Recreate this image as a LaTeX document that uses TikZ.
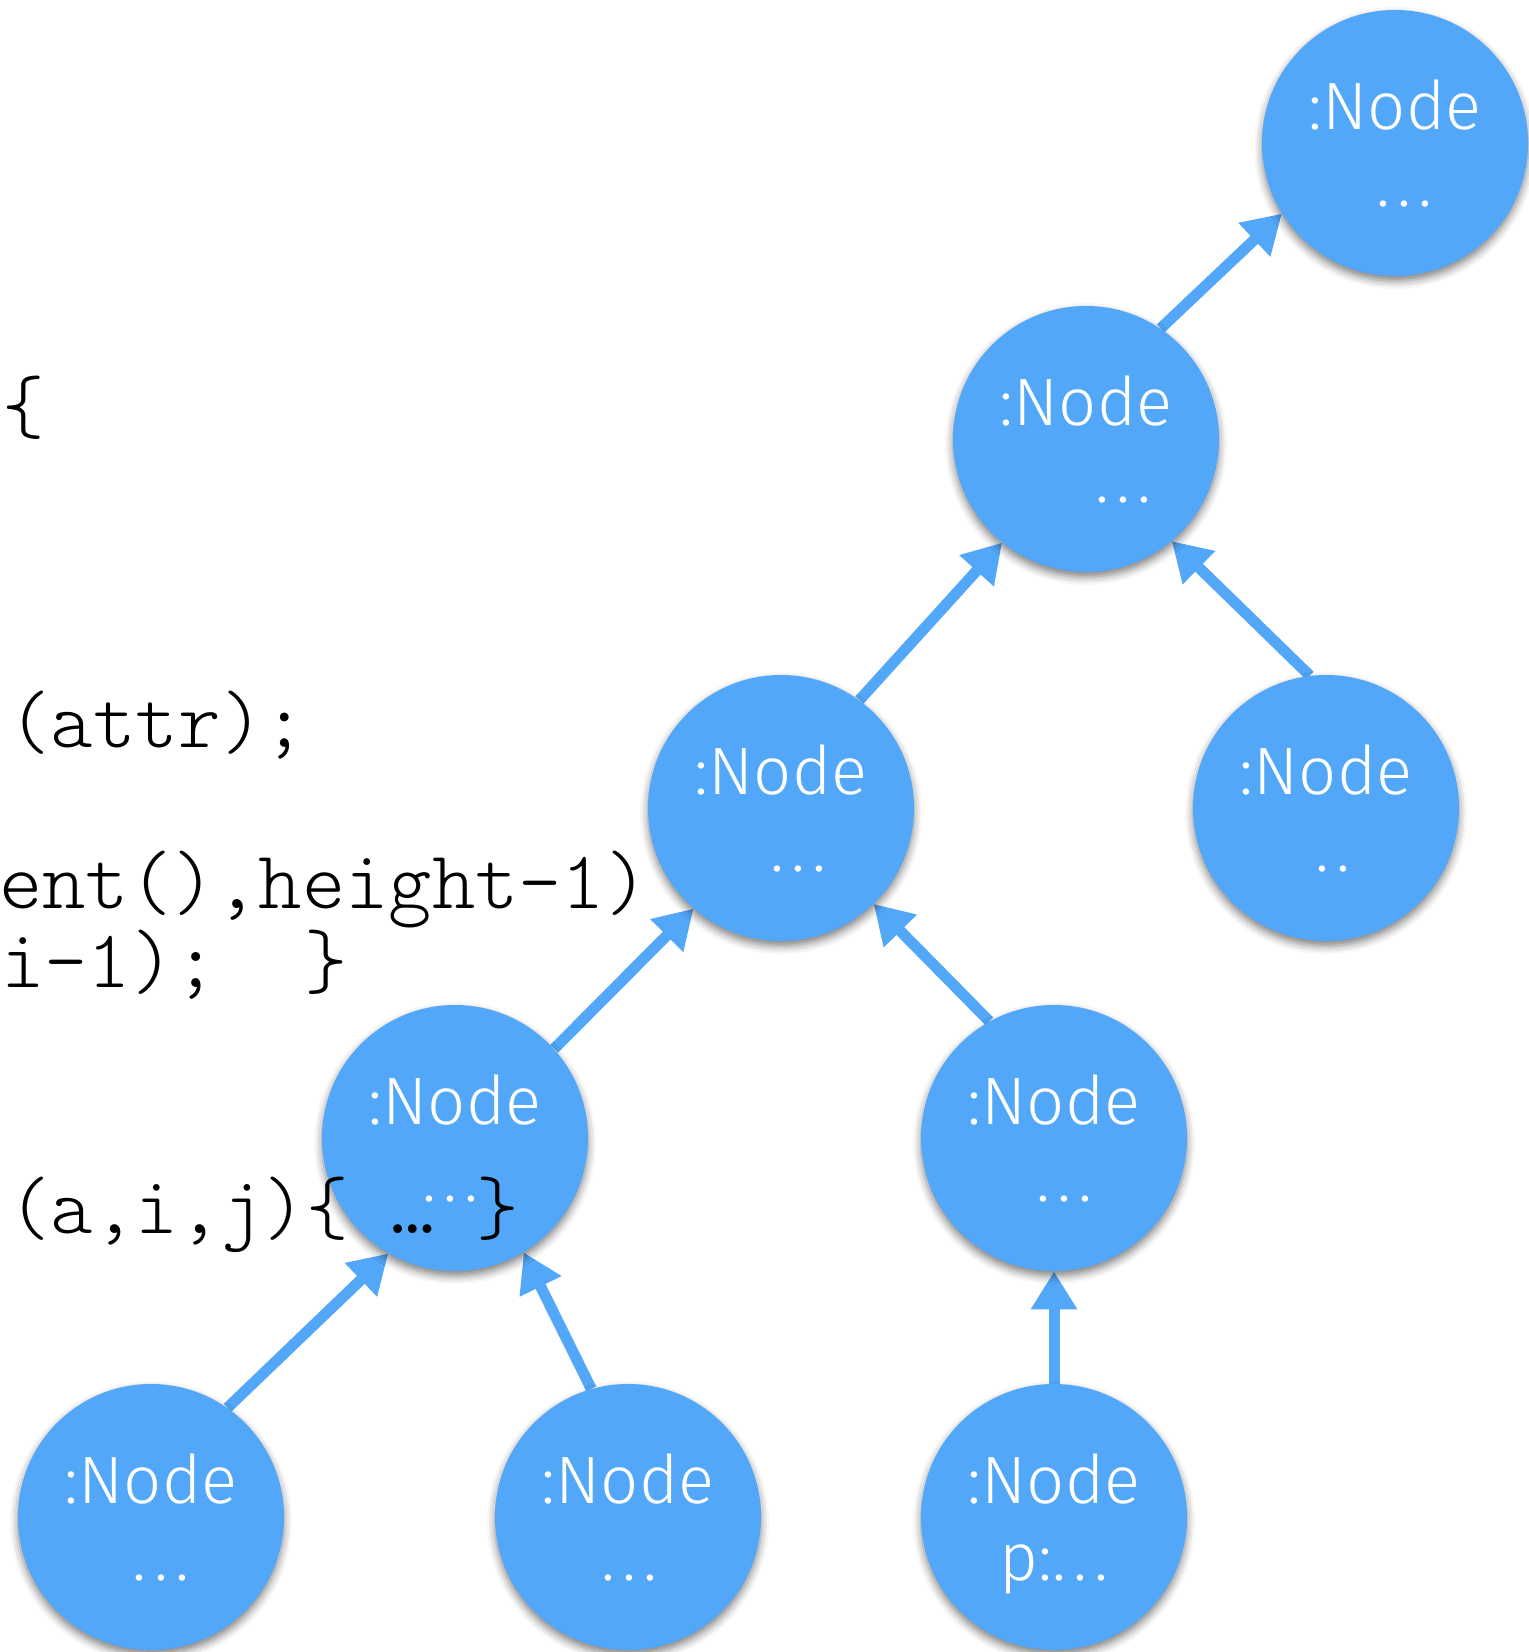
\documentclass[tikz,border=0pt]{standalone}
\usepackage{fontspec}
\newfontfamily\nodefont{Fira Sans Light}
\newfontfamily\codefont{Latin Modern Mono Light}
\usetikzlibrary{arrows.meta,shadows.blur}
\definecolor{nodeblue}{RGB}{82,167,249}
\pgfdeclarelayer{bg}
\pgfsetlayers{bg,main}
\tikzset{
  objnode/.style={circle, fill=nodeblue, inner sep=0pt, minimum size=133pt,
    text=white, align=center, text depth=0pt,
    font=\nodefont\fontsize{33.5}{38.5}\selectfont,
    blur shadow={shadow xshift=0pt, shadow yshift=-2.5pt,
      shadow blur radius=4pt, shadow opacity=50}},
  link/.style={draw=nodeblue, line width=5.5pt,
    -{Triangle[length=19pt,width=22pt]}},
  codeline/.style={anchor=base west, inner sep=0pt, text=black,
    font=\codefont\fontsize{40.5}{44}\selectfont},
  widecode/.style={codeline, font=\codefont\fontsize{41.2}{44}\selectfont}
}
% widely spaced dots of the object labels
\newcommand\wdots{.\kern3.6pt.\kern3.6pt.}
\newcommand\wtwodots{.\kern3.6pt.}
% second text line, shifted sideways by half the given amount
\newcommand\shifted[2]{\hspace*{#1pt}#2}
\begin{document}
\begin{tikzpicture}[x=0.5pt,y=-0.5pt]
\useasboundingbox (0,0) rectangle (1529,1652);

% object nodes of the tree
\node[objnode] (top) at (1395,143)  {:Node\\\shifted{9}{\wdots}};
\node[objnode] (n2)  at (1086,439)  {:Node\\\shifted{37}{\wdots}};
\node[objnode] (n3)  at (781,808)   {:Node\\\shifted{17}{\wdots}};
\node[objnode] (n4)  at (1326,808)  {:Node\\\shifted{7}{\wtwodots}};
\node[objnode] (n5)  at (455,1138)  {:Node\\\shifted{-5}{\wdots}};
\node[objnode] (n6)  at (1054,1138) {:Node\\\shifted{10}{\wdots}};
\node[objnode] (n7)  at (151,1517)  {:Node\\\shifted{10}{\wdots}};
\node[objnode] (n8)  at (628,1517)  {:Node\\\shifted{1}{\wdots}};
\node[objnode] (n9)  at (1054,1517) {:Node\\p:\wdots};

% parent links, drawn beneath the circles
\begin{pgfonlayer}{bg}
\draw[link] (n2.56)  -- (top.212);
\draw[link] (n3.54)  -- (n2.231);
\draw[link] (n4.97)  -- (n2.310);
\draw[link] (n5.42)  -- (n3.229);
\draw[link] (n6.119) -- (n3.314);
\draw[link] (n7.55)  -- (n5.240);
\draw[link] (n8.106) -- (n5.301);
\draw[link] (n9.90)  -- (n6.270);
\end{pgfonlayer}

% code fragments on the left
\node[codeline] (c1) at (2,432)   {\{};
\node[codeline] (c2) at (8,747)   {(attr);};
\node[widecode] (c3) at (-1,908)  {ent(),height-1)};
\node[widecode] (c4) at (1,987)   {i-1);\ \ \}};
\node[codeline] (c5) at (8,1233)  {(a,i,j)\{\ …\ \}};
\end{tikzpicture}
\end{document}
